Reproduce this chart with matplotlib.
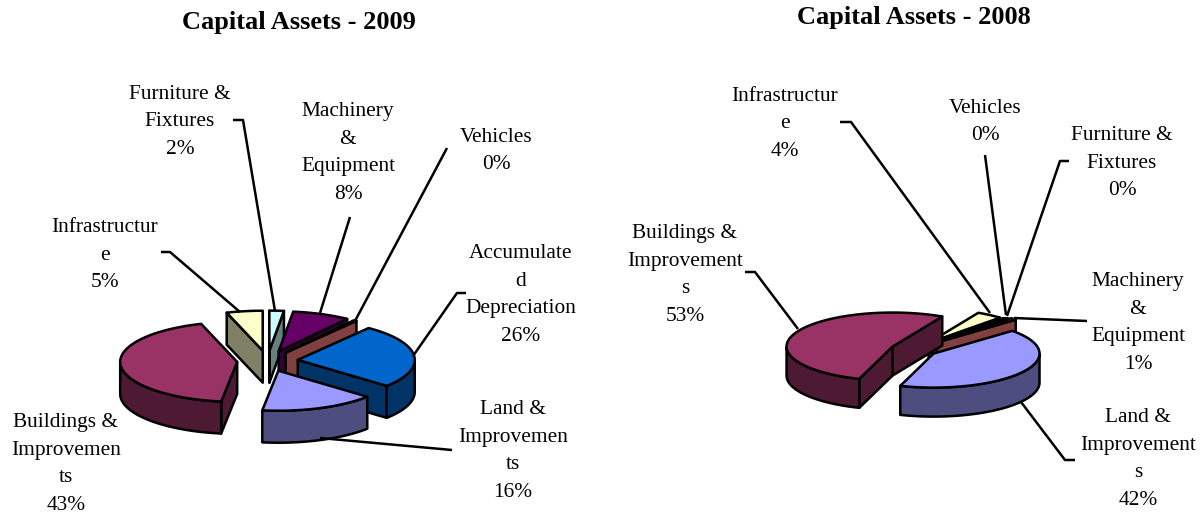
import numpy as np
import matplotlib
matplotlib.use("Agg")
import matplotlib.pyplot as plt
from matplotlib.patches import Polygon

plt.rcParams['font.family'] = ['Liberation Serif', 'DejaVu Serif']

# ---- data ----
names_2009 = ["Land &\nImprovemen\nts", "Buildings &\nImprovemen\nts", "Infrastructur\ne",
              "Furniture &\nFixtures", "Machinery\n&\nEquipment", "Vehicles", "Accumulate\nd\nDepreciation"]
values_2009 = [16, 43, 5, 2, 8, 0.4, 26]
names_2008 = ["Land &\nImprovement\ns", "Buildings &\nImprovement\ns", "Infrastructur\ne",
              "Vehicles", "Furniture &\nFixtures", "Machinery\n&\nEquipment"]
values_2008 = [42, 53, 4, 0.3, 0.3, 1]

# ---- styles ----
top_2009 = ["#9999FF", "#993366", "#FFFFCC", "#CCFFFF", "#660066", "#FF8080", "#0066CC"]
side_2009 = ["#4D4D80", "#4D1933", "#808066", "#668080", "#330033", "#804040", "#003366"]
top_2008 = ["#9999FF", "#993366", "#FFFFCC", "#660066", "#CCFFFF", "#FF8080"]
side_2008 = ["#4D4D80", "#4D1933", "#808066", "#330033", "#668080", "#804040"]
explode_2009 = [0.26] * 7
explode_2008 = [0.22, 0.22, 0.24, 0.25, 0.27, 0.30]

label_pos_2009 = [(513, 451), (66, 464), (105, 255), (180, 122), (348, 153), (496, 151), (521, 295)]
label_pos_2008 = [(1138, 459), (685, 275), (785, 124), (985, 122), (1122, 163), (1138, 323)]

leaders_2009 = [[(452, 450), (320, 438)], [(161, 252), (170, 252), (240, 312)],
                [(233, 120), (243, 120), (275, 311)], [(350, 217), (320, 313)],
                [(447, 148), (355, 321)], [(466, 293), (457, 293), (413, 356)]]
leaders_2008 = [[(1075, 460), (1065, 460), (1021, 402)], [(745, 272), (755, 272), (798, 329)],
                [(840, 122), (851, 122), (990, 313)], [(985, 155), (1006, 315)],
                [(1069, 161), (1060, 161), (1007, 316)], [(1087, 321), (1014, 318)]]

LW = 1.8
FS = 15.4
TITLE_FS = 19

fig = plt.figure(figsize=(12.01, 5.14), dpi=100)
ax = fig.add_axes([0, 0, 1, 1])
ax.set_xlim(0, 1201)
ax.set_ylim(514, 0)
ax.axis('off')


def pie3d(values, tops, sides, cx, cy, rx, ry, depth, start, explode):
    vals = np.asarray(values, float)
    spans = vals / vals.sum() * 360
    ends = start - np.cumsum(spans)
    starts = ends + spans
    mids = (starts + ends) / 2
    order = np.argsort(-np.sin(np.radians(mids)))
    z = 10
    for i in order:
        e = explode[i]
        ax_ = cx + e * rx * np.cos(np.radians(mids[i]))
        ay_ = cy - e * ry * np.sin(np.radians(mids[i]))
        t = np.radians(np.linspace(ends[i], starts[i], max(int(spans[i] * 2), 3)))
        xs = ax_ + rx * np.cos(t)
        ys = ay_ - ry * np.sin(t)
        kw = dict(edgecolor='black', linewidth=LW, joinstyle='round', closed=True)
        # radial side faces, only those turned to the viewer
        for k, visible in ((0, np.cos(t[0]) > 0), (-1, np.cos(t[-1]) < 0)):
            if visible:
                ax.add_patch(Polygon([(ax_, ay_), (xs[k], ys[k]), (xs[k], ys[k] + depth), (ax_, ay_ + depth)],
                                     facecolor=sides[i], zorder=z, **kw))
                z += 1
        # outer wall: front part only
        front = np.sin(t) <= 0.0
        if front.any():
            fx, fy = xs[front], ys[front]
            ax.add_patch(Polygon(np.r_[np.c_[fx, fy], np.c_[fx, fy + depth][::-1]],
                                 facecolor=sides[i], zorder=z, **kw))
            z += 1
        # top face
        ax.add_patch(Polygon(np.r_[[(ax_, ay_)], np.c_[xs, ys]], facecolor=tops[i], zorder=z, **kw))
        z += 1


def labels(names, values, pos):
    for n, v, (x, y) in zip(names, values, pos):
        ax.text(x, y, f"{n}\n{v:.0f}%", ha='center', va='center', fontsize=FS,
                linespacing=1.6, color='black', zorder=50)


pie3d(values_2009, top_2009, side_2009, 267.5, 361, 117, 40, 32, -40.5, explode_2009)
pie3d(values_2008, top_2008, side_2008, 914, 349.5, 106, 34, 29, 42, explode_2008)

for seg in leaders_2009 + leaders_2008:
    p = np.array(seg)
    ax.plot(p[:, 0], p[:, 1], color='black', lw=LW, zorder=40, solid_capstyle='butt')

labels(names_2009, values_2009, label_pos_2009)
labels(names_2008, values_2008, label_pos_2008)

ax.text(299, 22.5, "Capital Assets - 2009", ha='center', va='center', fontsize=TITLE_FS, fontweight='bold')
ax.text(914, 17.5, "Capital Assets - 2008", ha='center', va='center', fontsize=TITLE_FS, fontweight='bold')

fig.savefig("out.png", dpi=100)
